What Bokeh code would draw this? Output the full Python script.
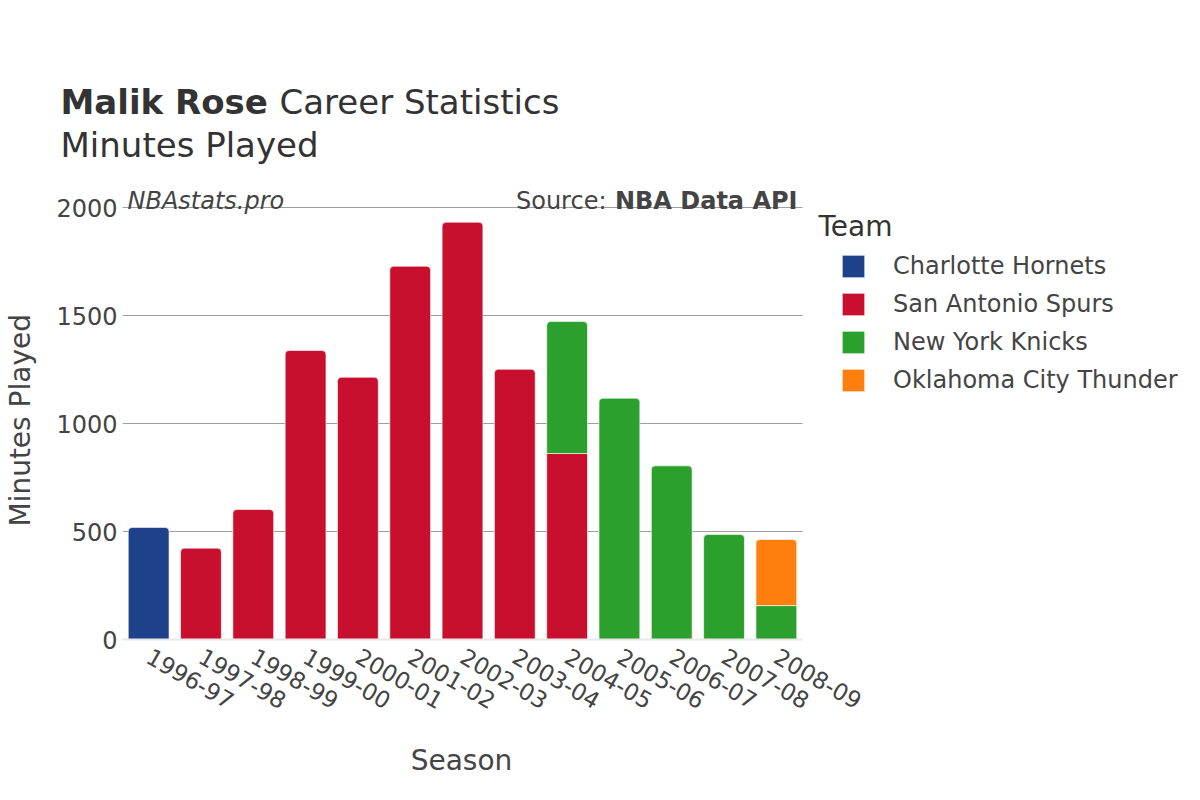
import math
import numpy as np
from bokeh.plotting import figure
from bokeh.models import (ColumnDataSource, Label, Legend, LegendItem,
                          FixedTicker, Range1d)
from bokeh.embed import file_html
from bokeh.resources import INLINE

# ---------------- data ----------------
seasons = ["1996-97", "1997-98", "1998-99", "1999-00", "2000-01", "2001-02",
           "2002-03", "2003-04", "2004-05", "2005-06", "2006-07", "2007-08",
           "2008-09"]
teams = ["Charlotte Hornets", "San Antonio Spurs", "New York Knicks",
         "Oklahoma City Thunder"]
team_colors = ["#1D428A", "#C8102E", "#2CA02C", "#FF7F0E"]

charlotte_hornets = [519, 0, 0, 0, 0, 0, 0, 0, 0, 0, 0, 0, 0]
san_antonio_spurs = [0, 423, 602, 1338, 1214, 1728, 1932, 1251, 861, 0, 0, 0, 0]
new_york_knicks = [0, 0, 0, 0, 0, 0, 0, 0, 611, 1117, 804, 486, 157]
oklahoma_city_thunder = [0, 0, 0, 0, 0, 0, 0, 0, 0, 0, 0, 0, 306]

y_ticks = [0, 500, 1000, 1500, 2000]

# ---------------- build stacked segments ----------------
series = [charlotte_hornets, san_antonio_spurs, new_york_knicks, oklahoma_city_thunder]
vals = np.array(series, dtype=float)
tops = np.cumsum(vals, axis=0)
bottoms = tops - vals
totals = tops[-1]
n = len(seasons)

rounded = dict(x=[], bottom=[], top=[], color=[])
flat = dict(x=[], bottom=[], top=[], color=[])
legend_index = {}
for t in range(len(teams)):
    for i in range(n):
        if vals[t, i] <= 0:
            continue
        is_top = abs(tops[t, i] - totals[i]) < 1e-9
        target = rounded if is_top else flat
        if is_top and t not in legend_index:
            legend_index[t] = len(rounded["x"])
        target["x"].append(i)
        target["bottom"].append(bottoms[t, i])
        target["top"].append(tops[t, i])
        target["color"].append(team_colors[t])

FONT = "DejaVu Sans"
TXT = "#444444"
DARK = "#333333"

W = 1192
HEADER_H = 165
FOOTER_TOP = 745
FOOTER_H = 792 - FOOTER_TOP
# plot frame on the page: left 122, zero line 639, 2000 line 207, 13 bars up to x=802
F_LEFT, F_BOTTOM, Y2000 = 122, 639, 207
CAT_PX = (802 - F_LEFT) / n


def blank(height):
    f = figure(width=W, height=height, output_backend="svg", toolbar_location=None,
               x_axis_type=None, y_axis_type=None, min_border=0,
               x_range=Range1d(0, 1), y_range=Range1d(0, 1))
    f.outline_line_color = None
    f.xgrid.visible = False
    f.ygrid.visible = False
    return f


def lab(fig, text, x, y, size, bold=False, italic=False, align="left",
        baseline="alphabetic", color=DARK):
    style = "bold" if bold else ("italic" if italic else "normal")
    fig.add_layout(Label(x=x, y=y, x_units="screen", y_units="screen", text=text,
                         text_font=FONT, text_font_size=size,
                         text_font_style=style, text_color=color,
                         text_align=align, text_baseline=baseline))


# ---------------- header (title lines) ----------------
hdr = blank(HEADER_H)
lab(hdr, "Malik Rose", 60, HEADER_H - 101, "34px", bold=True)
lab(hdr, "Career Statistics", 279, HEADER_H - 101, "34px")
lab(hdr, "Minutes Played", 60, HEADER_H - 144, "34px")

# ---------------- main chart ----------------
main_h = FOOTER_TOP - HEADER_H
frame_h = F_BOTTOM - HEADER_H
y_end = 2000.0 * frame_h / (F_BOTTOM - Y2000)
x_end = -0.5 + (W - F_LEFT) / CAT_PX

p = figure(width=W, height=main_h, x_range=Range1d(-0.5, x_end),
           y_range=Range1d(0, y_end), output_backend="svg", toolbar_location=None,
           min_border_left=F_LEFT, min_border_right=0, min_border_top=0,
           min_border_bottom=FOOTER_TOP - F_BOTTOM)
p.outline_line_color = None
p.xgrid.visible = False
p.ygrid.visible = False

# horizontal grid lines limited to the bar area
p.segment(x0=-0.5, x1=n - 0.5, y0=y_ticks[1:], y1=y_ticks[1:],
          line_color="#9e9e9e", line_width=1, level="underlay")

p.yaxis.ticker = FixedTicker(ticks=y_ticks)
p.yaxis.bounds = (y_ticks[0], y_ticks[-1])
p.yaxis.axis_line_color = None
p.yaxis.major_tick_line_color = None
p.yaxis.major_tick_out = 0
p.yaxis.minor_tick_line_color = None
p.yaxis.major_label_text_font = FONT
p.yaxis.major_label_text_font_size = "24px"
p.yaxis.major_label_text_color = TXT
p.yaxis.major_label_standoff = 5
# trailing blanks shift the centred title down to the middle of the 0-2000 span
p.yaxis.axis_label = "Minutes Played    "
p.yaxis.axis_label_text_font = FONT
p.yaxis.axis_label_text_font_size = "28px"
p.yaxis.axis_label_text_font_style = "normal"
p.yaxis.axis_label_text_color = TXT
p.yaxis.axis_label_standoff = 16

p.xaxis.ticker = FixedTicker(ticks=list(range(n)))
p.xaxis.major_label_overrides = {i: s for i, s in enumerate(seasons)}
p.xaxis.bounds = (-0.5, n - 0.5)
p.xaxis.axis_line_color = "#e8e8e8"
p.xaxis.axis_line_width = 2
p.xaxis.major_tick_line_color = None
p.xaxis.major_tick_out = 0
p.xaxis.minor_tick_line_color = None
p.xaxis.major_label_orientation = -math.pi / 6
p.xaxis.major_label_text_font = FONT
p.xaxis.major_label_text_font_size = "23px"
p.xaxis.major_label_text_color = TXT
p.xaxis.major_label_standoff = 15

p.vbar(x="x", bottom="bottom", top="top", width=0.78, fill_color="color",
       line_color="white", line_width=0.6, source=ColumnDataSource(flat))
r_top = p.vbar(x="x", bottom="bottom", top="top", width=0.78, fill_color="color",
               line_color="white", line_width=0.6, border_radius=(4, 4, 0, 0),
               source=ColumnDataSource(rounded))

items = [LegendItem(label=teams[t], renderers=[r_top], index=legend_index[t])
         for t in range(len(teams))]
legend = Legend(items=items, location=(839 - F_LEFT, 245), padding=0, margin=0,
                border_line_color=None, background_fill_alpha=0,
                glyph_width=28, glyph_height=28, label_height=20,
                spacing=10, label_standoff=26,
                label_text_font=FONT, label_text_font_size="24px",
                label_text_color=TXT)
p.add_layout(legend)

# texts inside the main frame (x from frame left, y up from frame bottom)
lab(p, "NBAstats.pro", 127 - F_LEFT, F_BOTTOM - 200, "24px", italic=True, color=TXT)
lab(p, "NBA Data API", 797 - F_LEFT, F_BOTTOM - 200, "24px", bold=True,
    align="right", color=TXT)
lab(p, "Source:", 606 - F_LEFT, F_BOTTOM - 200, "24px", align="right", color=TXT)
lab(p, "Team", 818 - F_LEFT, F_BOTTOM - 226, "28px", baseline="middle", color=DARK)

# ---------------- footer (x axis title) ----------------
ftr = blank(FOOTER_H)
lab(ftr, "Season", 461, FOOTER_TOP + FOOTER_H - 760, "28px", align="center",
    baseline="middle", color=TXT)

open("out.html", "w").write(file_html([hdr, p, ftr], INLINE))
